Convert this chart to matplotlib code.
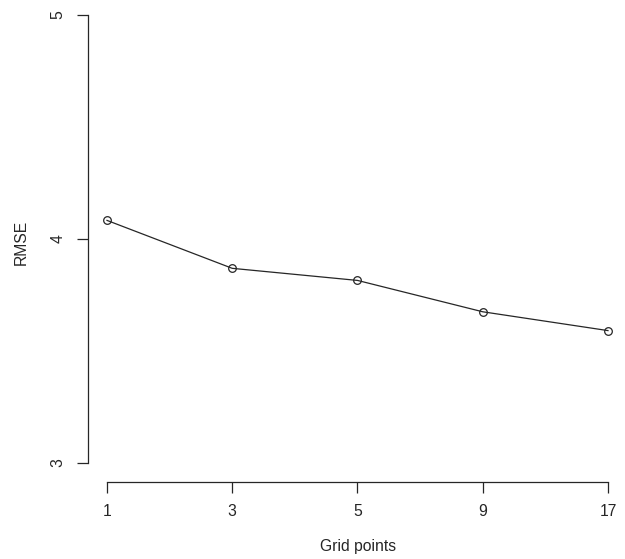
import matplotlib
matplotlib.use("Agg")
import matplotlib.pyplot as plt

# RMSE against number of grid points
grid_labels = ["1", "3", "5", "9", "17"]
positions = [1, 2, 3, 4, 5]
rmse = [4.082, 3.868, 3.814, 3.674, 3.590]
y_ticks = [3, 4, 5]

plt.rcParams["font.family"] = ["Liberation Sans", "DejaVu Sans"]
ink = "#262626"
fs = 11.3

W, H = 625, 559
fig = plt.figure(figsize=(W / 100, H / 100), dpi=100)
fig.patch.set_facecolor("white")

ax_left, ax_bottom_px = 87.7, 482.0
ax = fig.add_axes([ax_left / W, (H - ax_bottom_px) / H,
                   (W - ax_left) / W, ax_bottom_px / H])

ax.plot(positions, rmse, color=ink, lw=0.9, marker="o", markersize=5.5,
        markerfacecolor="none", markeredgecolor=ink, markeredgewidth=0.9)

ax.set_xlim(0.846, 5.136)
ax.set_ylim(2.914, 5.066)

for side in ("top", "right"):
    ax.spines[side].set_visible(False)
for side in ("left", "bottom"):
    ax.spines[side].set_color(ink)
    ax.spines[side].set_linewidth(0.9)
ax.spines["left"].set_bounds(3, 5)
ax.spines["bottom"].set_bounds(1, 5)

ax.set_xticks(positions)
ax.set_xticklabels(grid_labels)
ax.set_yticks(y_ticks)
ax.set_yticklabels([str(v) for v in y_ticks], rotation=90, va="center")
ax.tick_params(axis="both", colors=ink, length=8, width=0.9,
               labelsize=fs, labelcolor=ink)
ax.tick_params(axis="x", pad=8)
ax.tick_params(axis="y", pad=8)

ax.set_xlabel("Grid points", fontsize=fs, color=ink)
ax.xaxis.set_label_coords((358 - ax_left) / (W - ax_left),
                          -(547 - ax_bottom_px) / ax_bottom_px)
ax.xaxis.label.set_va("center")
ax.set_ylabel("RMSE", fontsize=fs, color=ink)
ax.yaxis.set_label_coords((21 - ax_left) / (W - ax_left),
                          (ax_bottom_px - 242) / ax_bottom_px)
ax.yaxis.label.set_va("center")

fig.savefig("out.png", dpi=100, facecolor="white")
